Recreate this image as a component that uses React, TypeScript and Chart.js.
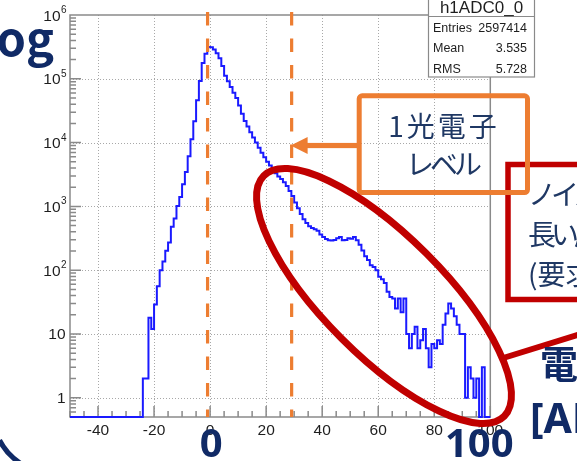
import React, { useEffect, useRef } from "react";
import { Chart, registerables } from "chart.js";

Chart.register(...registerables);

const W = 577;
const H = 461;

// h1ADC0_0: counts in 1-ADC bins, first bin starts at -50
const binStart = -50;
const binCounts: number[] = [
  0, 0, 0, 0, 0, 0, 0, 0, 0, 0,
  0, 0, 0, 0, 0, 0, 0, 0, 0, 0,
  0, 0, 0, 0, 0, 0, 0, 2, 2, 18,
  12, 29, 56, 100, 137, 201, 272, 478, 646, 1018,
  1409, 2229, 3475, 6124, 11300, 21600, 46100, 92500, 177000, 248000,
  316000, 312000, 288000, 251000, 209000, 158000, 112000, 91200, 74100, 60300,
  50100, 38000, 28200, 21900, 17800, 14500, 12000, 10000, 8320, 6920,
  5890, 5010, 4370, 3800, 3310, 2950, 2690, 2400, 2090, 1740,
  1450, 1150, 933, 759, 631, 550, 490, 457, 437, 417,
  363, 331, 309, 295, 292, 298, 316, 331, 295, 297,
  316, 312, 331, 295, 251, 204, 166, 145, 120, 112,
  100, 79, 72, 63, 46, 38, 36, 25, 36, 22,
  36, 10, 6, 10, 13, 6, 8, 12, 6, 3,
  7, 6, 8, 7, 14, 21, 30, 25, 19, 14,
  10, 10, 1, 3, 2, 1, 2, 0, 3, 0,
];

const xMin = -50;
const xMax = 100;
const yMin = 0.5;
const yMax = 1e6;
const xLabelTicks = [-40, -20, 0, 20, 40, 60, 80, 100];
const yDecades = [0, 1, 2, 3, 4, 5, 6];

const statTitle = "h1ADC0_0";
const statNames = ["Entries", "Mean", "RMS"];
const statValues = ["2597414", "3.535", "5.728"];

// dashed markers: pedestal and single photo-electron level (ADC)
const markerLines = [-0.9, 29.1];
const markerArrowLevel = 9000;

const orangeBoxLines = ["1光電子", "レベル"];
const redBoxLines = ["ノイズの裾が", "長い尾を引く", "(要求を満たす)"];
const bigAxisTexts = ["0", "100"];

const ORANGE = "#ED7D31";
const RED = "#C00000";
const NAVY = "#102A66";
const BOX_TEXT = "#1F3864";
const AXIS_FONT = '"Liberation Sans", Arial, sans-serif';
const CJK_FONT = '"Noto Sans CJK JP", "Noto Sans", sans-serif';

const rootFramePlugin = {
  id: "rootFrame",
  beforeDraw(chart: any) {
    const ctx = chart.ctx;
    ctx.save();
    ctx.fillStyle = "#ffffff";
    ctx.fillRect(0, 0, chart.width, chart.height);
    ctx.restore();
  },
  beforeDatasetsDraw(chart: any) {
    const ctx = chart.ctx;
    const { left, right, top, bottom } = chart.chartArea;
    const xs = chart.scales.x;
    const ys = chart.scales.y;
    ctx.save();

    // dotted grid
    ctx.strokeStyle = "#a8a8a8";
    ctx.lineWidth = 1;
    ctx.setLineDash([1, 2]);
    for (const v of xLabelTicks) {
      if (v <= xMin || v >= xMax) continue;
      const px = Math.round(xs.getPixelForValue(v)) + 0.5;
      ctx.beginPath();
      ctx.moveTo(px, top);
      ctx.lineTo(px, bottom);
      ctx.stroke();
    }
    for (const d of yDecades) {
      const val = Math.pow(10, d);
      if (val >= yMax) continue;
      const py = Math.round(ys.getPixelForValue(val)) + 0.5;
      ctx.beginPath();
      ctx.moveTo(left, py);
      ctx.lineTo(right, py);
      ctx.stroke();
    }
    ctx.setLineDash([]);

    // frame
    ctx.strokeStyle = "#8a8a8a";
    ctx.lineWidth = 1.5;
    ctx.strokeRect(left, top, right - left, bottom - top);

    // y ticks (log, inside)
    ctx.beginPath();
    for (let d = -1; d <= 5; d++) {
      for (let m = 1; m <= 9; m++) {
        const val = m * Math.pow(10, d);
        if (val < yMin || val > yMax) continue;
        const py = ys.getPixelForValue(val);
        const len = m === 1 ? 11 : 6;
        ctx.moveTo(left, py);
        ctx.lineTo(left + len, py);
      }
    }
    // x ticks
    for (let v = xMin; v <= xMax; v += 5) {
      const px = xs.getPixelForValue(v);
      const len = (v + 40) % 20 === 0 ? 11 : 6;
      ctx.moveTo(px, bottom);
      ctx.lineTo(px, bottom - len);
    }
    ctx.stroke();

    // labels
    ctx.fillStyle = "#1e1e1e";
    ctx.font = `15.5px ${AXIS_FONT}`;
    ctx.textAlign = "center";
    ctx.textBaseline = "alphabetic";
    for (const v of xLabelTicks) {
      ctx.fillText(String(v), xs.getPixelForValue(v), bottom + 18);
    }
    for (const d of yDecades) {
      const py = ys.getPixelForValue(Math.pow(10, d));
      ctx.font = `15.5px ${AXIS_FONT}`;
      ctx.textAlign = "right";
      if (d === 0) {
        ctx.fillText("1", left - 4.5, py + 5.5);
      } else if (d === 1) {
        ctx.fillText("10", left - 4.5, py + 5.5);
      } else {
        ctx.fillText("10", left - 9.5, py + 5.5);
        ctx.font = `10px ${AXIS_FONT}`;
        ctx.textAlign = "left";
        ctx.fillText(String(d), left - 9, py - 2);
      }
    }
    ctx.restore();
  },
  afterDraw(chart: any) {
    const ctx = chart.ctx;
    const xs = chart.scales.x;
    const ys = chart.scales.y;
    const { bottom } = chart.chartArea;
    ctx.save();

    // statistics box
    const bx0 = 428, bx1 = 534;
    ctx.fillStyle = "#ffffff";
    ctx.fillRect(bx0, -2, bx1 - bx0, 79);
    ctx.strokeStyle = "#8a8a8a";
    ctx.lineWidth = 1.2;
    ctx.strokeRect(bx0 + 0.5, -2, bx1 - bx0, 79);
    ctx.beginPath();
    ctx.moveTo(bx0, 16.5);
    ctx.lineTo(bx1, 16.5);
    ctx.stroke();
    ctx.fillStyle = "#1e1e1e";
    ctx.font = `17px ${AXIS_FONT}`;
    ctx.textAlign = "center";
    ctx.fillText(statTitle, (bx0 + bx1) / 2 + 0.5, 13);
    ctx.font = `12.5px ${AXIS_FONT}`;
    statNames.forEach((n, i) => {
      const by = 31.7 + i * 20.6;
      ctx.textAlign = "left";
      ctx.fillText(n, bx0 + 5, by);
      ctx.textAlign = "right";
      ctx.fillText(statValues[i], bx1 - 7, by);
    });

    // dashed markers
    ctx.strokeStyle = ORANGE;
    ctx.lineWidth = 3.2;
    ctx.setLineDash([13.5, 13]);
    ctx.lineDashOffset = 0;
    for (const m of markerLines) {
      const px = xs.getPixelForValue(m);
      ctx.beginPath();
      ctx.moveTo(px, 12);
      ctx.lineTo(px, bottom);
      ctx.stroke();
    }
    ctx.setLineDash([]);

    // arrow to second marker
    const tipX = xs.getPixelForValue(markerLines[1]) - 1;
    const ay = ys.getPixelForValue(markerArrowLevel);
    ctx.fillStyle = ORANGE;
    ctx.beginPath();
    ctx.moveTo(tipX, ay);
    ctx.lineTo(tipX + 17, ay - 8.5);
    ctx.lineTo(tipX + 17, ay + 8.5);
    ctx.closePath();
    ctx.fill();
    ctx.fillRect(tipX + 16, ay - 2.6, 359 - tipX - 16, 5.2);

    // red note box
    ctx.strokeStyle = RED;
    ctx.lineWidth = 5.5;
    ctx.strokeRect(508, 164.5, 120, 135);

    // orange note box
    ctx.strokeStyle = ORANGE;
    ctx.lineWidth = 5;
    ctx.beginPath();
    (ctx as any).roundRect(359.2, 95.8, 168.3, 96.7, 3);
    ctx.stroke();

    ctx.fillStyle = BOX_TEXT;
    ctx.textBaseline = "middle";
    ctx.textAlign = "center";
    ctx.font = `28px ${CJK_FONT}`;
    (ctx as any).letterSpacing = "3px";
    ctx.fillText(orangeBoxLines[0], 444, 126);
    (ctx as any).letterSpacing = "-4px";
    ctx.fillText(orangeBoxLines[1], 442, 164);

    ctx.textAlign = "left";
    (ctx as any).letterSpacing = "-5px";
    ctx.fillText(redBoxLines[0], 528, 194);
    ctx.fillText(redBoxLines[1], 528, 234);
    (ctx as any).letterSpacing = "0px";
    ctx.fillText(redBoxLines[2], 528, 274);

    // red ellipse around the tail
    ctx.strokeStyle = RED;
    ctx.lineWidth = 7;
    ctx.beginPath();
    ctx.ellipse(384, 296, 170, 60, Math.PI / 4, 0, Math.PI * 2);
    ctx.stroke();
    ctx.lineWidth = 6;
    ctx.beginPath();
    ctx.moveTo(500, 359);
    ctx.lineTo(590, 331);
    ctx.stroke();

    // slide text around the plot
    ctx.fillStyle = NAVY;
    ctx.textBaseline = "alphabetic";
    ctx.textAlign = "right";
    ctx.font = `bold 47px ${CJK_FONT}`;
    ctx.fillText("Log", 54, 56);
    ctx.textAlign = "center";
    ctx.font = `bold 40px "Noto Sans", sans-serif`;
    ctx.fillText(bigAxisTexts[0], xs.getPixelForValue(0) + 1, 457);
    ctx.fillText(bigAxisTexts[1], xs.getPixelForValue(100) - 11, 457);
    ctx.textAlign = "left";
    ctx.font = `bold 38px ${CJK_FONT}`;
    ctx.textBaseline = "middle";
    ctx.fillText("電荷量", 540, 364);
    ctx.textBaseline = "alphabetic";
    ctx.font = `bold 41px "Noto Sans", sans-serif`;
    ctx.fillText("[ADC]", 530, 433);

    ctx.strokeStyle = NAVY;
    ctx.lineWidth = 5;
    ctx.beginPath();
    ctx.arc(53, 413, 60, Math.PI * 0.68, Math.PI * 0.85, false);
    ctx.stroke();

    ctx.restore();
  },
};

export default function App() {
  const canvasRef = useRef<HTMLCanvasElement | null>(null);

  useEffect(() => {
    document.body.style.margin = "0";
    const canvas = canvasRef.current;
    if (!canvas) return;
    const pts = binCounts.map((c, i) => ({ x: binStart + i, y: Math.max(c, yMin) }));
    pts.push({ x: binStart + binCounts.length, y: Math.max(binCounts[binCounts.length - 1], yMin) });

    const chart = new Chart(canvas, {
      type: "line",
      data: {
        datasets: [
          {
            data: pts,
            stepped: "after",
            borderColor: "#1a1aff",
            borderWidth: 2,
            pointRadius: 0,
            fill: false,
            clip: 3,
          } as any,
        ],
      },
      options: {
        responsive: false,
        maintainAspectRatio: false,
        animation: false,
        devicePixelRatio: 1,
        events: [],
        layout: { padding: { left: 70, top: 15, right: 86.7, bottom: 44 } },
        plugins: { legend: { display: false }, tooltip: { enabled: false } },
        scales: {
          x: { type: "linear", min: xMin, max: xMax, display: false },
          y: { type: "logarithmic", min: yMin, max: yMax, display: false },
        },
      },
      plugins: [rootFramePlugin],
    });
    return () => chart.destroy();
  }, []);

  return (
    <div style={{ position: "fixed", left: 0, top: 0, width: W, height: H, background: "#fff", overflow: "hidden" }}>
      <canvas ref={canvasRef} width={W} height={H} style={{ display: "block", width: W, height: H }} />
    </div>
  );
}
